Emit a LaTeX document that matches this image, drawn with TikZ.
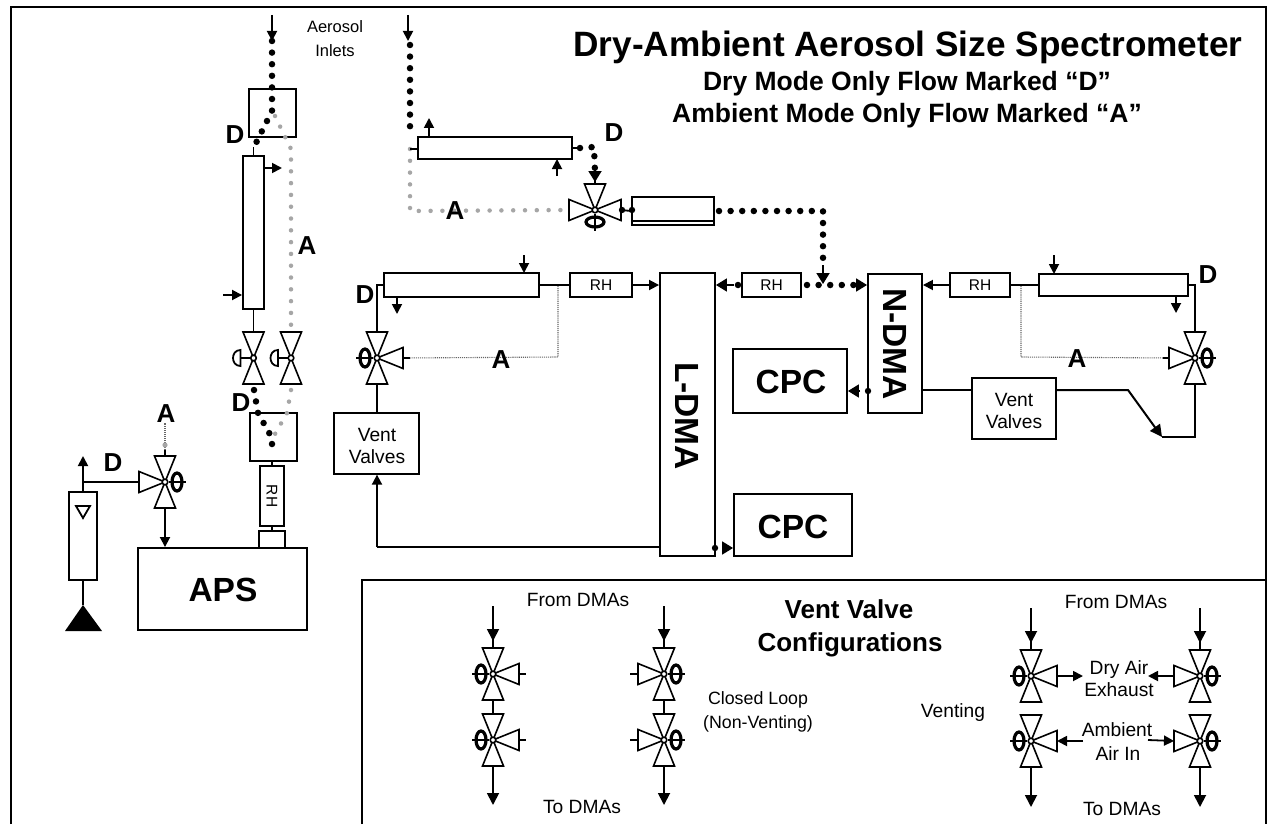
\documentclass[tikz,border=0pt]{standalone}
\usepackage{fontspec}
\setmainfont{Liberation Sans}
\usetikzlibrary{arrows.meta,calc}
\tikzset{
  ln/.style={line width=1.8pt,black},
  ar/.style={line width=1.8pt,black,-{Triangle[length=10pt,width=10pt]}},
  bigar/.style={line width=1.8pt,black,-{Triangle[length=12pt,width=12pt]}},
  fatar/.style={line width=1.8pt,black,-{Triangle[length=11pt,width=13pt]}},
  bx/.style={draw=black,line width=1.9pt,fill=white,inner sep=0pt},
  thinbx/.style={draw=black,line width=1.3pt,fill=white,inner sep=0pt},
  vtri/.style={draw=black,line width=1.6pt,fill=white,line join=miter},
  dotblk/.style={black,line width=6.5pt,line cap=round,dash pattern=on 0pt off 11.6pt},
  dotgry/.style={black!35,line width=4.5pt,line cap=round,dash pattern=on 0pt off 11.8pt},
  thingry/.style={black!60,line width=1.1pt,densely dotted},
  big/.style={font=\fontsize{33.5}{36}\selectfont\bfseries,inner sep=0pt},
  tag/.style={font=\fontsize{26}{28}\selectfont\bfseries,inner sep=0pt},
  small/.style={font=\fontsize{19.2}{21}\selectfont,inner sep=0pt,anchor=base},
  smaller/.style={font=\fontsize{17.8}{20}\selectfont,inner sep=0pt,anchor=base},
  rhtxt/.style={font=\fontsize{15.5}{17}\selectfont,inner sep=0pt},
  ttl/.style={font=\fontsize{35.2}{38}\selectfont\bfseries,inner sep=0pt,anchor=base},
  sub/.style={font=\fontsize{26.5}{29}\selectfont\bfseries,inner sep=0pt,anchor=base},
  head/.style={font=\fontsize{26}{28}\selectfont\bfseries,inner sep=0pt,anchor=base},
}
% one triangle of a valve: name, unit vector, suffix
\newcommand\vt[4]{%
  \coordinate (#1-#4) at ($(#1)+({26*#2},{26*#3})$);
  \draw[vtri] (#1) -- ($(#1)+({26*#2+10.5*#3},{26*#3+10.5*#2})$)
    -- ($(#1)+({26*#2-10.5*#3},{26*#3-10.5*#2})$) -- cycle;}
\newcommand\vdirt[1]{\vt{#1}{0}{-1}{t}}
\newcommand\vdirb[1]{\vt{#1}{0}{1}{b}}
\newcommand\vdirl[1]{\vt{#1}{-1}{0}{l}}
\newcommand\vdirr[1]{\vt{#1}{1}{0}{r}}
\newcommand\valve[4]{%
  \coordinate (#1) at (#2,#3);
  \foreach \s in {#4}{\csname vdir\s\endcsname{#1}}
  \draw[draw=black,line width=1.6pt,fill=white] (#1) circle[radius=2.8pt];}
% "0" shaped hand wheel: name, ux, uy
\newcommand\wheel[3]{%
  \draw[ln] ($(#1)+({4*#2},{4*#3})$) -- ($(#1)+({21*#2},{21*#3})$);
  \draw[black,line width=3.2pt] ($(#1)+({12*#2},{12*#3})$)
    ellipse[x radius={5*abs(#2)+9*abs(#3)},y radius={5*abs(#3)+9*abs(#2)}];}
% half disc hand wheel on the left
\newcommand\dwheel[1]{%
  \draw[ln] ($(#1)+(-3,0)$) -- ($(#1)+(-13,0)$);
  \draw[ln,fill=white] ($(#1)+(-13,-8)$) .. controls ($(#1)+(-23,-8)$) and ($(#1)+(-23,8)$) .. ($(#1)+(-13,8)$) -- cycle;}
% box by its corners
\newcommand\bxn[6][bx]{%
  \node[#1,minimum width={#5-#3},minimum height={#6-#4}] (#2) at ({(#3+#5)/2},{(#4+#6)/2}) {};}
\begin{document}
\begin{tikzpicture}[x=1pt,y=-1pt]
\useasboundingbox (0,0) rectangle (1268,824);
\fill[white] (0,0) rectangle (1268,824);
% frames
\draw[black,line width=1.8pt] (11,824) -- (11,7) -- (1266,7) -- (1266,824);
\draw[black,line width=1.8pt] (362,824) -- (362,580) -- (1266,580);

% titles
\node[ttl] (title) at (908,57) {Dry-Ambient Aerosol Size Spectrometer};
\node[sub] (sub1) at (907,91) {Dry Mode Only Flow Marked “D”};
\node[sub] (sub2) at (907,122) {Ambient Mode Only Flow Marked “A”};
\node[small,font=\fontsize{16.5}{18}\selectfont] (inl1) at (335,33) {Aerosol};
\node[small,font=\fontsize{16.5}{18}\selectfont] (inl2) at (335,57) {Inlets};

% ---------- left column ----------
\bxn{fa}{249}{89}{296}{137}
\bxn{col}{243}{156}{264}{309}
\bxn{fb}{250}{413}{297}{461}
\bxn{rhv}{260}{466}{284}{526}
\node[rhtxt,rotate=-90] (rhvt) at (272,496) {RH};
\bxn{adp}{259}{531}{285}{548}
\bxn{aps}{138}{548}{307}{630}
\node[big] (apst) at (223,590) {APS};
\bxn{fm}{69}{492}{97}{580}
\draw[ln,fill=white] (76,506) -- (90,506) -- (83,518) -- cycle;
\coordinate (gnd) at (83,605);
\fill[black] (gnd) -- (102,631) -- (65,631) -- cycle;
\draw[ln] (fm.south) -- (gnd);
\coordinate (fmup) at (83,456);
\draw[ar] (fm.north) -- (fmup);

\valve{V1}{253.5}{358}{t,b}
\valve{V2}{291}{358}{t,b}
\dwheel{V1}\dwheel{V2}
\draw[ln] (col.south) -- (V1-t);
\draw[ln] (col.north) -- ++(0,-8);
\draw[ln] (rhv.north) -- (fb.south -| rhv.north);
\draw[ln] (rhv.south) -- (adp.north);

\coordinate (inA) at (272,15);
\coordinate (inAe) at (272,41);
\coordinate (fa1) at (272,111);
\coordinate (fa2) at (253.5,148);
\draw[ar] (inA) -- (inAe);
\draw[dotblk] (inAe) -- (fa1) -- (fa2);
\coordinate (fg1) at (275,116);
\coordinate (fg2) at (291,149);
\draw[dotgry] (fg1) -- (fg2) -- (V2-t);
\coordinate (fb0) at (254,390);
\coordinate (fb1) at (258,413);
\coordinate (fb2) at (272,438);
\coordinate (fb3) at (272,452);
\draw[dotblk] (fb0) -- (fb1) -- (fb2) -- (fb3);
\coordinate (gb0) at (291,390);
\coordinate (gb1) at (287,413);
\coordinate (gb2) at (275,434);
\draw[dotgry] (gb0) -- (gb1) -- (gb2);
\draw[ar] (col.east |- 0,168) -- (282,168);
\draw[ar] (223,295) -- (col.west |- 0,295);
\node[tag] (lD1) at (235,135) {D};
\node[tag] (lA1) at (307,246) {A};
\node[tag] (lD2) at (241,403) {D};

% APS valve
\valve{V3}{165}{482}{t,b,l}
\wheel{V3}{1}{0}
\draw[ar] (V3-b) -- (V3-b |- aps.north);
\draw[ln] (V3-l) -- (83,482);
\coordinate (V3g) at (165,423);
\draw[thingry] (V3-t) -- (V3g);
\draw[ln] (V3-t) -- ++(0,-6);
\fill[black!35] (165,445) circle[radius=2.6pt];
\node[tag] (lA2) at (166,414) {A};
\node[tag] (lD3) at (113,463) {D};

% ---------- top centre ----------
\bxn{td}{418}{137}{572}{159}
\bxn{tb}{632}{197}{714}{225}
\draw[black,line width=2.2pt] (tb.west |- 0,221) -- (tb.east |- 0,221);
\valve{V4}{595}{210}{t,l,r}
\wheel{V4}{0}{1}
\coordinate (inB) at (408,15);
\coordinate (inBe) at (408,41);
\coordinate (jB) at (410,135);
\coordinate (jg) at (410,149);
\coordinate (jc) at (410,211);
\draw[ar] (inB) -- (inBe);
\draw[dotblk] (410,45) -- (jB);
\draw[dotgry] (jg) -- (jc) -- (V4-l);
\draw[ln] (jg) -- (td.west |- jg);
\draw[ar] (429,137) -- (429,118);
\draw[ar] (557,176) -- (557,159);
\coordinate (tdr) at (594,147);
\coordinate (tdd) at (595,172);
\draw[ln] (td.east) -- ++(8,0);
\draw[dotblk] (580,148) -- (tdr) -- (tdd);
\draw[fatar] (595,170) -- (595,182);
\draw[ln] (595,180) -- (V4-t);
\draw[ln] (V4-r) -- (tb.west);
\fill[black] (622,210) circle[radius=3.2pt] (632,210) circle[radius=3.2pt];
\node[tag] (lD4) at (614,133) {D};
\node[tag] (lA3) at (455,211) {A};
\coordinate (tbc) at (823,211);
\coordinate (tbd) at (823,268);
\draw[dotblk] (719,211) -- (tbc) -- (tbd);
\draw[fatar] (823,265) -- (823,284);

% ---------- DMAs ----------
\bxn{ldma}{660}{273}{715}{556}
\bxn{ndma}{868}{274}{922}{413}
\node[big,rotate=-90] (ldmat) at (687.5,416) {L-DMA};
\node[big,rotate=-90] (ndmat) at (895,344) {N-DMA};
\bxn{cpcA}{733}{349}{847}{413}
\bxn{cpcB}{734}{494}{852}{556}
\node[big] (cpcAt) at (791,382) {CPC};
\node[big] (cpcBt) at (793,527) {CPC};

\bxn{lf}{384}{273}{539}{297}
\bxn{rhl}{570}{273}{632}{297}
\bxn{rhm}{742}{273}{801}{297}
\bxn{rhr}{950}{273}{1010}{297}
\bxn{rf}{1039}{274}{1188}{296}
\node[rhtxt] at (rhl) {RH};
\node[rhtxt] at (rhm) {RH};
\node[rhtxt] at (rhr) {RH};

% left side
\valve{V5}{377}{358}{t,b,r}
\wheel{V5}{-1}{0}
\bxn[thinbx]{vvl}{334}{413}{419}{474}
\node[small] (vvl1) at (377,441) {Vent};
\node[small] (vvl2) at (377,463) {Valves};
\draw[ln] (lf.west) -- (377,285) -- (V5-t);
\draw[ln] (V5-b) -- (vvl.north -| V5-b);
\draw[ln] (ldma.west |- 0,547) -- (377,547);
\draw[ar] (377,547) -- (vvl.south -| 377,0);
\draw[ln] (lf.east) -- (rhl.west);
\draw[ar] (rhl.east) -- (rhl.east -| ldma.west);
\draw[ar] (524,255) -- (524,273);
\draw[ar] (397,297) -- (397,314);
\coordinate (lgn) at (558,286);
\coordinate (lgc) at (558,357);
\draw[thingry] (lgn) -- (lgc) -- (V5-r);
\draw[ln] (V5-r) -- ++(7,0);
\node[tag] (lD5) at (365,295) {D};
\node[tag] (lA4) at (501,360) {A};

% middle row
\draw[dotblk] (738,285) -- ++(0,0);
\draw[fatar] (734,285) -- (rhm.west -| ldma.east);
\draw[ln] (rhm.west) -- (738,285);
\draw[dotblk] (807,285) -- (860,285);
\draw[fatar] (855,285) -- (rhm.west -| ndma.west);
\draw[ar] (rhr.west) -- (rhr.west -| ndma.east);
\draw[ln] (rhr.east) -- (rf.west);
\draw[ar] (1054,255) -- (1054,274);
\draw[ar] (1176,296) -- (1176,313);

% right valve
\valve{V6}{1195}{358}{t,b,l}
\wheel{V6}{1}{0}
\draw[ln] (rf.east) -- (1195,285) -- (V6-t);
\coordinate (rgn) at (1021,286);
\coordinate (rgc) at (1021,357);
\draw[thingry] (rgn) -- (rgc) -- (V6-l);
\draw[ln] (V6-l) -- ++(-6,0);
\node[tag] (lD6) at (1208,275) {D};
\node[tag] (lA5) at (1077,359) {A};

\bxn[thinbx]{vvr}{972}{378}{1056}{439}
\node[small] (vvr1) at (1014,406) {Vent};
\node[small] (vvr2) at (1014,428) {Valves};
\coordinate (kink) at (1128,390);
\coordinate (kinkb) at (1162,437);
\draw[ln] (ndma.east |- 0,390) -- (vvr.west |- 0,390);
\draw[black,line width=2pt,-{Triangle[length=12pt,width=12pt]}] (vvr.east |- 0,390) -- (kink) -- (kinkb);
\draw[ln] (kinkb) -- (1195,437) -- (V6-b);

% CPC links
\fill[black] (868,391) circle[radius=3.2pt];
\draw[fatar] (860,391) -- (cpcA.east |- 0,391);
\fill[black] (715,548) circle[radius=3.2pt];
\draw[fatar] (722,548) -- (cpcB.west |- 0,548);

% ---------- inset ----------
\node[head] (vt1) at (849,618) {Vent Valve};
\node[head] (vt2) at (850,651) {Configurations};
\node[small] (fd1) at (578,606) {From DMAs};
\node[small] (td1) at (582,813) {To DMAs};
\node[smaller] (cl1) at (758,704) {Closed Loop};
\node[smaller] (cl2) at (758,728) {(Non-Venting)};
\node[small] (fd2) at (1116,608) {From DMAs};
\node[small] (td2) at (1122,815) {To DMAs};
\node[small] (vent) at (953,717) {Venting};
\node[small] (dry1) at (1119,674) {Dry Air};
\node[small] (dry2) at (1119,696) {Exhaust};
\node[small] (amb1) at (1117,736) {Ambient};
\node[small] (amb2) at (1118,760) {Air In};

\valve{a1}{493}{674}{t,b,r}\wheel{a1}{-1}{0}
\valve{a2}{493}{740}{t,b,r}\wheel{a2}{-1}{0}
\valve{b1}{664}{674}{t,b,l}\wheel{b1}{1}{0}
\valve{b2}{664}{740}{t,b,l}\wheel{b2}{1}{0}
\valve{c1}{1031}{676}{t,b,r}\wheel{c1}{-1}{0}
\valve{c2}{1031}{741}{t,b,r}\wheel{c2}{-1}{0}
\valve{d1}{1200}{676}{t,b,l}\wheel{d1}{1}{0}
\valve{d2}{1200}{741}{t,b,l}\wheel{d2}{1}{0}
% stubs
\draw[ln] (a1-r) -- ++(7,0);
\draw[ln] (a2-r) -- ++(7,0);
\draw[ln] (b1-l) -- ++(-8,0);
\draw[ln] (b2-l) -- ++(-8,0);
% valve to valve
\draw[ln] (a1-b) -- (a2-t);
\draw[ln] (b1-b) -- (b2-t);
% in and out arrows
\foreach \c/\k/\ya/\yb in {a1/a2/606/805,b1/b2/606/805,c1/c2/608/807,d1/d2/608/807}{
  \draw[bigar] (\c |- 0,\ya) -- ($(\c-t)+(0,-7)$);
  \draw[ln] ($(\c-t)+(0,-9)$) -- (\c-t);
  \draw[bigar] (\k-b) -- (\k |- 0,\yb);
}
\draw[ar] (c1-r) -- (1083,676);
\draw[ar] (d1-l) -- (1148,676);
\draw[ar] (1083,741) -- (c2-r);
\draw[ar] (1148,740) -- (d2-l);
\end{tikzpicture}
\end{document}
